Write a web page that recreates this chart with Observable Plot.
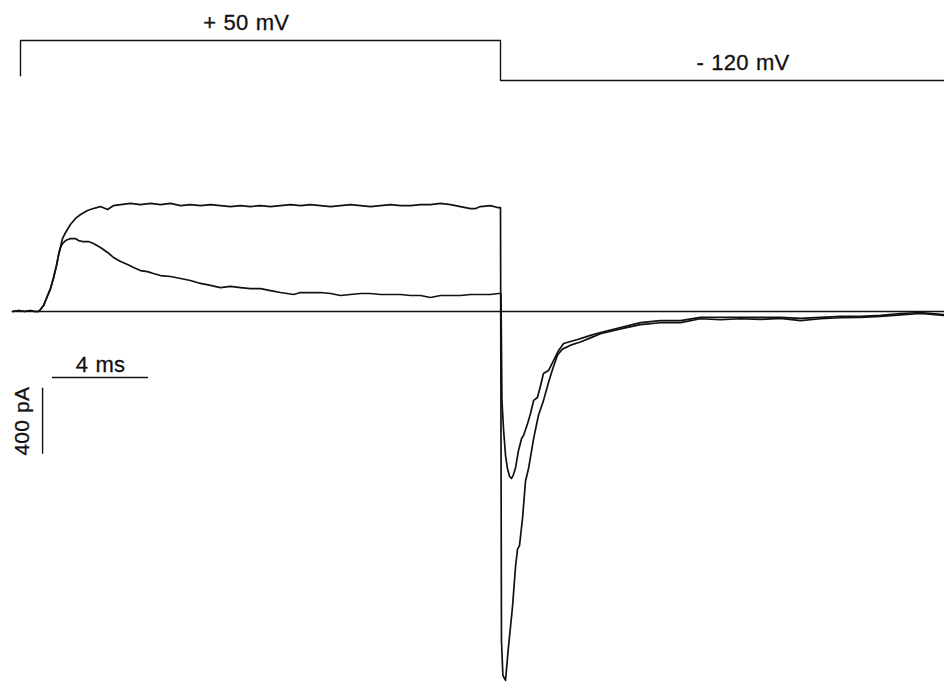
<!DOCTYPE html>
<html>
<head>
<meta charset="utf-8">
<script src="https://cdn.jsdelivr.net/npm/d3@7"></script>
<script src="https://cdn.jsdelivr.net/npm/@observablehq/plot@0.6"></script>
<style>
  html, body { margin: 0; padding: 0; background: #fff; }
  svg { display: block; }
  text { letter-spacing: 0.2px; word-spacing: 1px; }
</style>
</head>
<body>
<div id="chart"></div>
<script>
// ---- Voltage protocol (ms, mV) ----
const protocolT = [0, 0, 20, 20, 38.5];
const protocolV = [-100, 50, 50, -120, -120];
const voltageLabels = ["+ 50 mV", "- 120 mV"];
const voltageLabelT = [9.4, 30.1];
const voltageLabelV = [50, -120];

// ---- Current trace A: non-inactivating (ms, pA) ----
const tA = [-0.33,-0.08,0.17,0.42,0.58,0.75,0.83,0.96,1.08,1.25,1.38,1.5,1.58,1.67,1.75,1.88,2.08,2.29,2.5,2.79,3.04,3.33,3.63,3.88,
  4.17,4.58,5.0,5.42,5.83,6.25,6.67,7.08,7.5,7.92,8.33,8.75,9.17,9.58,10.0,10.42,10.83,11.25,11.67,12.08,12.5,12.92,13.33,13.75,14.17,14.58,15.0,15.42,15.83,16.25,16.67,17.08,17.5,17.92,18.33,18.75,18.96,19.17,19.58,19.88,
  20.0,20.04,20.1,20.21,20.33,20.5,20.63,20.71,20.79,20.92,21.04,21.17,21.38,21.58,21.79,22.0,22.17,22.38,22.58,22.92,23.33,23.75,24.17,25.0,25.83,26.67,27.5,28.33,29.17,30.0,30.83,31.67,32.5,33.33,34.17,35.0,35.83,36.67,37.5,38.46];
const iA = [0,6,0,6,0,0,12,36,79,139,206,279,339,394,442,479,527,564,588,612,624,636,618,642,
  648,655,648,655,648,655,642,648,642,648,642,636,642,636,642,636,642,648,642,648,642,636,642,648,642,636,642,648,642,642,648,648,655,648,636,624,624,636,642,630,
  630,-1994,-2206,-2236,-2036,-1790,-1540,-1440,-1420,-1250,-1030,-950,-770,-630,-540,-430,-350,-262,-228,-204,-185,-160,-135,-105,-80,-68,-67,-44,-50,-44,-48,-42,-55,-44,-38,-36,-30,-20,-12,-24];

// ---- Current trace B: inactivating (ms, pA) ----
const tB = [-0.33,-0.08,0.17,0.42,0.58,0.75,0.83,0.96,1.08,1.25,1.38,1.5,1.58,1.67,1.75,1.88,2.08,2.29,2.42,2.58,2.83,3.04,3.33,3.63,3.88,4.17,4.46,4.71,5.0,5.29,5.54,5.83,6.25,6.67,7.08,7.5,7.92,8.33,8.75,9.17,9.58,10.0,10.42,10.83,11.38,11.67,12.08,12.5,12.92,13.33,13.75,14.17,14.58,15.0,15.42,15.83,16.25,16.67,17.08,17.5,17.92,18.33,18.75,19.17,19.58,19.92,
  20.02,20.06,20.13,20.21,20.29,20.38,20.46,20.54,20.63,20.75,20.88,20.96,21.13,21.25,21.38,21.54,21.67,21.79,22.0,22.21,22.42,22.63,22.92,23.21,23.46,23.75,24.17,25.0,25.83,26.67,27.5,28.33,29.17,30.0,30.83,31.67,32.5,33.33,34.17,35.0,35.83,36.67,37.5,38.46];
const iB = [0,6,0,6,0,0,12,36,79,139,206,279,339,388,412,430,442,442,430,424,424,412,388,358,327,303,285,267,248,242,230,218,212,200,188,170,158,145,152,145,139,139,127,115,103,115,115,115,109,97,103,109,109,103,103,103,97,97,85,97,97,97,103,103,103,109,
  109,-539,-721,-873,-952,-1000,-1012,-988,-945,-842,-770,-752,-679,-618,-539,-521,-448,-376,-358,-297,-236,-194,-182,-170,-158,-145,-127,-97,-67,-55,-55,-36,-36,-36,-36,-36,-42,-36,-30,-30,-24,-12,-6,-18];

// ---- Baseline and scale bars ----
const baselineT = [-0.33, 38.5];
const scaleTimeT = [1.33, 5.33];     // 4 ms
const scaleTimeI = -400;
const scaleCurrT = 0.92;
const scaleCurrI = [-465, -865];     // 400 pA
const scaleLabels = ["4 ms", "400 pA"];

const W = 944;
const xDomain = [-20/24, 924/24];
const font = "Liberation Sans, Arial, Helvetica, sans-serif";
const ink = "#111";

const proto = protocolT.map((t, k) => ({t, v: protocolV[k]}));
const vLab = voltageLabels.map((s, k) => ({s, t: voltageLabelT[k], v: voltageLabelV[k]}));

const protocolPlot = Plot.plot({
  width: W, height: 100,
  margin: 0,
  x: {domain: xDomain, axis: null},
  y: {domain: [-205, 220], axis: null},
  style: {fontFamily: font, background: "#fff"},
  marks: [
    Plot.line(proto, {x: "t", y: "v", stroke: ink, strokeWidth: 1.4}),
    Plot.text(vLab, {x: "t", y: "v", text: "s", dy: -11, lineAnchor: "bottom", textAnchor: "middle",
      fontSize: 22, fill: ink, stroke: ink, strokeWidth: 0.3, fontFamily: font})
  ]
});

const A = tA.map((t, k) => ({t, i: iA[k]}));
const B = tB.map((t, k) => ({t, i: iB[k]}));

const currentPlot = Plot.plot({
  width: W, height: 583,
  margin: 0,
  x: {domain: xDomain, axis: null},
  y: {domain: [-2254.5, 1278.8], axis: null},
  style: {fontFamily: font, background: "#fff"},
  marks: [
    Plot.ruleY([0], {x1: baselineT[0], x2: baselineT[1], stroke: ink, strokeWidth: 1.4}),
    Plot.line(B, {x: "t", y: "i", stroke: ink, strokeWidth: 1.7}),
    Plot.line(A, {x: "t", y: "i", stroke: ink, strokeWidth: 1.7}),
    Plot.ruleY([scaleTimeI], {x1: scaleTimeT[0], x2: scaleTimeT[1], stroke: ink, strokeWidth: 1.4}),
    Plot.ruleX([scaleCurrT], {y1: scaleCurrI[0], y2: scaleCurrI[1], stroke: ink, strokeWidth: 1.4}),
    Plot.text([scaleLabels[0]], {x: (scaleTimeT[0] + scaleTimeT[1]) / 2, y: scaleTimeI, text: d => d,
      dy: -6, lineAnchor: "bottom", textAnchor: "middle", fontSize: 22, fill: ink, stroke: ink, strokeWidth: 0.3, fontFamily: font}),
    Plot.text([scaleLabels[1]], {x: 0.08, y: (scaleCurrI[0] + scaleCurrI[1]) / 2, text: d => d,
      rotate: -90, textAnchor: "middle", lineAnchor: "middle", fontSize: 21, fill: ink, stroke: ink, strokeWidth: 0.3, fontFamily: font})
  ]
});

const root = document.getElementById("chart");
root.appendChild(protocolPlot);
root.appendChild(currentPlot);
</script>
</body>
</html>
